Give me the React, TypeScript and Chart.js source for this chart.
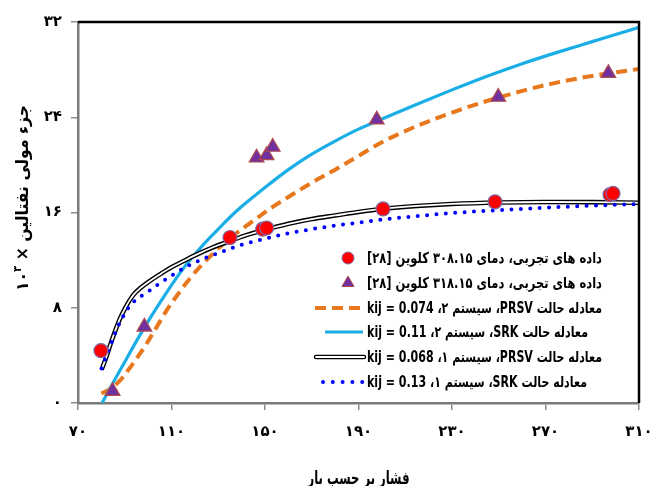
import React, { useEffect, useRef } from 'react';
import { Chart, registerables } from 'chart.js';

Chart.register(...registerables);

// ---------- data ----------
const xTicks = [70, 110, 150, 190, 230, 270, 310];
const yTicks = [0, 8, 16, 24, 32];

// experimental data, 308.15 K (circles)
const exp308X = [79.8, 135.0, 149.0, 150.7, 200.5, 248.4, 297.6, 298.9];
const exp308Y = [4.4, 13.9, 14.6, 14.7, 16.3, 16.9, 17.5, 17.6];

// experimental data, 318.15 K (triangles)
const exp318X = [84.8, 98.4, 146.4, 150.7, 153.3, 197.8, 249.8, 296.9];
const exp318Y = [1.0, 6.4, 20.6, 20.8, 21.5, 23.8, 25.7, 27.7];

// PRSV, system 2, kij = 0.074 (orange dashed)
const prsv2X = [80, 84, 88, 92, 96, 100, 104, 108, 113, 118, 123, 128, 133, 138, 145, 152, 160, 170, 180, 190, 200, 213, 228, 243, 257, 271, 285, 298, 310];
const prsv2Y = [0.8, 1.2, 1.9, 2.9, 4.0, 5.2, 6.5, 7.8, 9.2, 10.5, 11.6, 12.6, 13.5, 14.3, 15.3, 16.3, 17.3, 18.5, 19.6, 20.75, 21.9, 23.1, 24.25, 25.25, 26.05, 26.75, 27.3, 27.72, 28.05];

// SRK, system 2, kij = 0.11 (cyan)
const srk2X = [80.3, 85, 90, 95, 100, 105, 110, 115, 120, 125, 130, 135, 140, 150, 160, 170, 180, 190, 200, 215, 230, 245, 260, 275, 290, 300, 310];
const srk2Y = [0, 1.7, 3.45, 5.2, 6.85, 8.4, 9.9, 11.3, 12.5, 13.6, 14.6, 15.6, 16.5, 18.1, 19.6, 20.9, 22.0, 23.0, 23.85, 25.1, 26.3, 27.45, 28.5, 29.45, 30.35, 30.95, 31.55];

// PRSV, system 1, kij = 0.068 (black double line)
const prsv1X = [80.1, 82, 84, 86, 88, 90, 92, 94, 97, 100, 105, 110, 115, 120, 128, 135, 142, 150, 160, 170, 180, 190, 200, 215, 230, 250, 270, 290, 310];
const prsv1Y = [2.8, 3.8, 5.0, 6.1, 7.1, 7.9, 8.6, 9.15, 9.7, 10.15, 10.8, 11.4, 11.9, 12.4, 13.1, 13.6, 14.1, 14.55, 15.05, 15.45, 15.75, 16.05, 16.3, 16.55, 16.72, 16.84, 16.88, 16.87, 16.82];

// SRK, system 1, kij = 0.13 (blue dotted)
const srk1X = [80.1, 82, 84, 86, 88, 90, 92, 95, 100, 105, 110, 115, 120, 128, 135, 142, 150, 160, 170, 180, 190, 200, 215, 230, 250, 270, 290, 310];
const srk1Y = [2.9, 3.9, 4.9, 5.9, 6.8, 7.5, 8.1, 8.7, 9.35, 10.05, 10.7, 11.3, 11.8, 12.45, 12.95, 13.4, 13.8, 14.25, 14.6, 14.9, 15.15, 15.4, 15.7, 15.95, 16.2, 16.4, 16.58, 16.7];

const legendLabels = [
  'داده های تجربی، دمای ۳۰۸.۱۵ کلوین [۲۸]',
  'داده های تجربی، دمای ۳۱۸.۱۵ کلوین [۲۸]',
  'معادله حالت PRSV، سیستم ۲، kij = 0.074',
  'معادله حالت SRK، سیستم ۲، kij = 0.11',
  'معادله حالت PRSV، سیستم ۱، kij = 0.068',
  'معادله حالت SRK، سیستم ۱، kij = 0.13',
];
const xTitle = 'فشار بر حسب بار';
const yTitleWords = 'جزء مولی نفتالین';
const yTitleBase = '۱۰';
const yTitleExp = '۳';

// ---------- styles ----------
const FONT = '"DejaVu Sans", sans-serif';
const RED = '#FF0000';
const CIRCLE_BORDER = '#7E6BA8';
const PURPLE = '#7030A0';
const TRI_BORDER = '#B04A4A';
const ORANGE = '#E8781E';
const CYAN = '#1AAEE6';
const BLUE = '#0000FF';

const fa = (s: string) => s.replace(/[0-9]/g, (d) => '۰۱۲۳۴۵۶۷۸۹'[+d]);
const pts = (xs: number[], ys: number[]) => xs.map((x, i) => ({ x, y: ys[i] }));

const framePlugin = {
  id: 'frame',
  afterDatasetsDraw(chart: any) {
    const { ctx, chartArea } = chart;
    ctx.save();
    ctx.strokeStyle = '#000';
    ctx.lineWidth = 2.5;
    ctx.beginPath();
    ctx.moveTo(chartArea.left, chartArea.top);
    ctx.lineTo(chartArea.right, chartArea.top);
    ctx.lineTo(chartArea.right, chartArea.bottom);
    ctx.stroke();
    ctx.restore();
  },
};

const titlesPlugin = {
  id: 'titles',
  afterDraw(chart: any) {
    const ctx = chart.ctx as CanvasRenderingContext2D;
    const area = chart.chartArea;
    ctx.save();
    // x title
    ctx.font = `bold 18px ${FONT}`;
    ctx.fillStyle = '#000';
    ctx.direction = 'rtl';
    ctx.textAlign = 'center';
    ctx.textBaseline = 'alphabetic';
    const xw = ctx.measureText(xTitle).width;
    ctx.save();
    ctx.translate((area.left + area.right) / 2, 484);
    ctx.scale(102 / xw, 1);
    ctx.fillText(xTitle, 0, 0);
    ctx.restore();

    // y title (rotated)
    ctx.save();
    ctx.translate(28, 198);
    ctx.rotate(-Math.PI / 2);
    const mainFont = `bold 17px ${FONT}`;
    const supFont = `bold 11px ${FONT}`;
    ctx.direction = 'ltr';
    ctx.textAlign = 'left';
    ctx.font = mainFont;
    const w1 = ctx.measureText(yTitleBase).width;
    const w3 = ctx.measureText(' × ').width;
    ctx.direction = 'rtl';
    const w4 = ctx.measureText(yTitleWords).width;
    ctx.font = supFont;
    ctx.direction = 'ltr';
    const w2 = ctx.measureText(yTitleExp).width;
    const total = w1 + w2 + w3 + w4;
    const sx = 186 / total;
    ctx.scale(sx, 1);
    let x = -total / 2;
    ctx.font = mainFont;
    ctx.fillText(yTitleBase, x, 0);
    x += w1;
    ctx.font = supFont;
    ctx.fillText(yTitleExp, x, -7);
    x += w2;
    ctx.font = mainFont;
    ctx.fillText(' × ', x, 0);
    x += w3;
    ctx.direction = 'rtl';
    ctx.textAlign = 'left';
    ctx.fillText(yTitleWords, x, 0);
    ctx.restore();
    ctx.restore();
  },
};

const legendPlugin = {
  id: 'customLegend',
  afterDraw(chart: any) {
    const ctx = chart.ctx as CanvasRenderingContext2D;
    const rowsY = [258, 283, 308, 332, 357, 382];
    const textLeft = 367;
    const textRight = [602, 602, 602, 588, 602, 587];
    ctx.save();
    legendLabels.forEach((label, i) => {
      const y = rowsY[i];
      ctx.save();
      ctx.setLineDash([]);
      if (i === 0) {
        ctx.beginPath();
        ctx.arc(348, y, 6, 0, Math.PI * 2);
        ctx.fillStyle = RED;
        ctx.fill();
        ctx.lineWidth = 1;
        ctx.strokeStyle = CIRCLE_BORDER;
        ctx.stroke();
      } else if (i === 1) {
        const r = 7;
        ctx.beginPath();
        ctx.moveTo(348, y - r);
        ctx.lineTo(348 + r * Math.sin((2 * Math.PI) / 3), y + r / 2);
        ctx.lineTo(348 - r * Math.sin((2 * Math.PI) / 3), y + r / 2);
        ctx.closePath();
        ctx.fillStyle = PURPLE;
        ctx.fill();
        ctx.lineWidth = 1;
        ctx.strokeStyle = TRI_BORDER;
        ctx.stroke();
      } else if (i === 2) {
        ctx.strokeStyle = ORANGE;
        ctx.lineWidth = 4;
        ctx.setLineDash([11, 6]);
        ctx.beginPath();
        ctx.moveTo(315, y);
        ctx.lineTo(363, y);
        ctx.stroke();
      } else if (i === 3) {
        ctx.strokeStyle = CYAN;
        ctx.lineWidth = 3;
        ctx.beginPath();
        ctx.moveTo(325, y);
        ctx.lineTo(363, y);
        ctx.stroke();
      } else if (i === 4) {
        ctx.lineCap = 'round';
        ctx.strokeStyle = '#000';
        ctx.lineWidth = 4.5;
        ctx.beginPath();
        ctx.moveTo(316, y);
        ctx.lineTo(364, y);
        ctx.stroke();
        ctx.strokeStyle = '#fff';
        ctx.lineWidth = 1.8;
        ctx.stroke();
      } else {
        ctx.lineCap = 'round';
        ctx.strokeStyle = BLUE;
        ctx.lineWidth = 4;
        ctx.setLineDash([0, 9.8]);
        ctx.beginPath();
        ctx.moveTo(323, y);
        ctx.lineTo(364, y);
        ctx.stroke();
      }
      ctx.restore();

      ctx.font = `bold 15px ${FONT}`;
      ctx.direction = 'rtl';
      ctx.textAlign = 'left';
      ctx.textBaseline = 'middle';
      ctx.fillStyle = '#000';
      const w = ctx.measureText(label).width;
      const sx = (textRight[i] - textLeft) / w;
      ctx.save();
      ctx.translate(textLeft, y + 1);
      ctx.scale(sx, 1);
      ctx.fillText(label, 0, 0);
      ctx.restore();
    });
    ctx.restore();
  },
};

export default function App() {
  const canvasRef = useRef<HTMLCanvasElement | null>(null);

  useEffect(() => {
    document.body.style.margin = '0';
    const canvas = canvasRef.current;
    if (!canvas) return;
    const tickFont = { family: FONT, size: 15, weight: 'bold' as const };
    const lineBase = {
      showLine: true,
      pointRadius: 0,
      pointHoverRadius: 0,
      fill: false,
      cubicInterpolationMode: 'monotone' as const,
    };
    const chart = new Chart(canvas, {
      type: 'scatter',
      data: {
        datasets: [
          {
            label: legendLabels[0],
            data: pts(exp308X, exp308Y),
            showLine: false,
            pointStyle: 'circle',
            pointRadius: 7,
            backgroundColor: RED,
            borderColor: CIRCLE_BORDER,
            borderWidth: 1.2,
          },
          {
            label: legendLabels[1],
            data: pts(exp318X, exp318Y),
            showLine: false,
            pointStyle: 'triangle',
            pointRadius: 8.5,
            backgroundColor: PURPLE,
            borderColor: TRI_BORDER,
            borderWidth: 1.2,
          },
          {
            ...lineBase,
            label: legendLabels[5],
            data: pts(srk1X, srk1Y),
            borderColor: BLUE,
            borderWidth: 4,
            borderDash: [0, 9.4],
            borderCapStyle: 'round',
          },
          {
            ...lineBase,
            label: legendLabels[4] + ' inner',
            data: pts(prsv1X, prsv1Y),
            borderColor: '#ffffff',
            borderWidth: 1.8,
          },
          {
            ...lineBase,
            label: legendLabels[4],
            data: pts(prsv1X, prsv1Y),
            borderColor: '#000000',
            borderWidth: 4.6,
          },
          {
            ...lineBase,
            label: legendLabels[3],
            data: pts(srk2X, srk2Y),
            borderColor: CYAN,
            borderWidth: 3.2,
          },
          {
            ...lineBase,
            label: legendLabels[2],
            data: pts(prsv2X, prsv2Y),
            borderColor: ORANGE,
            borderWidth: 4,
            borderDash: [11, 6],
          },
        ] as any,
      },
      options: {
        animation: false,
        responsive: false,
        devicePixelRatio: 1,
        layout: { padding: { top: 22, right: 12, left: 0, bottom: 0 } },
        plugins: {
          legend: { display: false },
          tooltip: { enabled: false },
        },
        events: [],
        scales: {
          x: {
            type: 'linear',
            min: xTicks[0],
            max: xTicks[xTicks.length - 1],
            afterBuildTicks: (s: any) => {
              s.ticks = xTicks.map((v) => ({ value: v }));
            },
            afterFit: (s: any) => {
              s.height = 83;
              s.paddingLeft = 0;
              s.paddingRight = 0;
            },
            ticks: {
              callback: (v: any) => fa(String(v)),
              font: tickFont,
              color: '#000',
              padding: 13,
              maxRotation: 0,
              autoSkip: false,
            },
            grid: {
              drawOnChartArea: false,
              drawTicks: true,
              tickLength: 7,
              color: '#8c8c8c',
              lineWidth: 1.5,
            },
            border: { color: '#7a7a7a', width: 2.5 },
          },
          y: {
            type: 'linear',
            min: yTicks[0],
            max: yTicks[yTicks.length - 1],
            afterBuildTicks: (s: any) => {
              s.ticks = yTicks.map((v) => ({ value: v }));
            },
            afterFit: (s: any) => {
              s.width = 78;
              s.paddingTop = 0;
              s.paddingBottom = 0;
            },
            ticks: {
              callback: (v: any) => fa(String(v)),
              font: tickFont,
              color: '#000',
              padding: 9,
              autoSkip: false,
            },
            grid: {
              drawOnChartArea: false,
              drawTicks: true,
              tickLength: 7,
              color: '#8c8c8c',
              lineWidth: 1.5,
            },
            border: { color: '#7a7a7a', width: 2.5 },
          },
        },
      } as any,
      plugins: [framePlugin, titlesPlugin, legendPlugin],
    });
    return () => chart.destroy();
  }, []);

  return (
    <div style={{ width: 651, height: 486, background: '#fff' }}>
      <canvas ref={canvasRef} width={651} height={486} style={{ display: 'block' }} />
    </div>
  );
}
